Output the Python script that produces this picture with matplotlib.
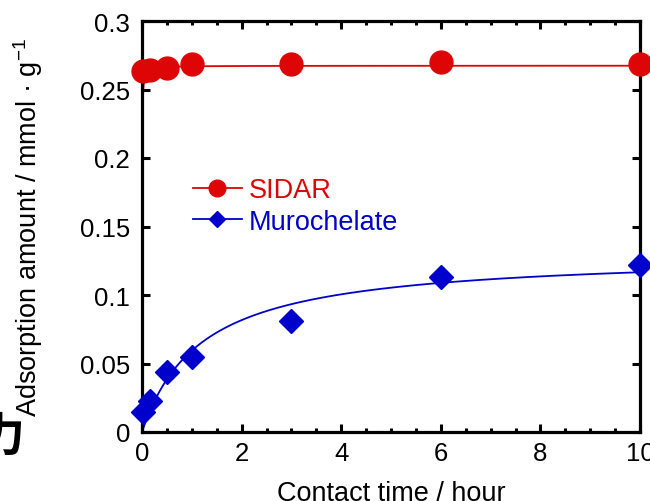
import numpy as np
import matplotlib as mpl
mpl.use('Agg')
import matplotlib.pyplot as plt

plt.rcParams['font.family'] = ['Liberation Sans', 'DejaVu Sans']
plt.rcParams['mathtext.default'] = 'regular'

# contact time (hour)
time_h = [1/60, 10/60, 30/60, 1, 3, 6, 10]
# adsorption amount (mmol/g)
sidar = [0.2637, 0.2640, 0.2657, 0.2686, 0.2686, 0.2703, 0.2686]
muro = [0.0144, 0.0229, 0.0436, 0.0545, 0.0813, 0.1130, 0.1219]

xticks = [0, 2, 4, 6, 8, 10]
yticks = [0, 0.05, 0.1, 0.15, 0.2, 0.25, 0.3]
yticklabels = ['0', '0.05', '0.1', '0.15', '0.2', '0.25', '0.3']

# pseudo second order fit parameters (qe, k)
sidar_fit = (0.2674, 2000.0)
muro_fit = (0.1306, 6.39)

red = '#dd0505'
blue = '#0000cc'

def pso(t, qe, k):
    return qe * qe * k * t / (1 + qe * k * t)

t = np.concatenate([[0], np.geomspace(1e-5, 10, 600)])

fig = plt.figure(figsize=(6.5, 5.02), dpi=100)
ax = fig.add_axes([142/650, 1-433/502, 498/650, 411/502])

ax.plot(t, pso(t, *sidar_fit), color=red, lw=1.3)
ax.plot(t, pso(t, *muro_fit), color=blue, lw=1.3)
ax.plot(time_h, sidar, 'o', color=red, ms=16.5, mec=red, clip_on=False, zorder=5)
ax.plot(time_h, muro, 'D', color=blue, ms=11.8, mec=blue, clip_on=False, zorder=5)

# legend handles
ax.plot([], [], '-o', color=red, ms=12, lw=1.3, label='SIDAR')
ax.plot([], [], '-D', color=blue, ms=8.5, lw=1.3, label='Murochelate')
h, l = ax.get_legend_handles_labels()
leg = ax.legend(h, l, loc='upper left', bbox_to_anchor=(0.102, 0.62),
                frameon=False, fontsize=19.5, handlelength=1.8,
                handletextpad=0.25, labelspacing=0.2, borderpad=0,
                borderaxespad=0)
for txt, c in zip(leg.get_texts(), [red, blue]):
    txt.set_color(c)

ax.set_xlim(0, 10)
ax.set_ylim(0, 0.3)
ax.set_xticks(xticks)
ax.set_xticks(np.arange(0, 10.01, 0.5), minor=True)
ax.set_xticklabels([str(v) for v in xticks])
ax.set_yticks(yticks)
ax.set_yticklabels(yticklabels)
ax.tick_params(which='both', direction='in', top=True, right=True, width=2.2)
ax.tick_params(which='major', length=6)
ax.tick_params(which='minor', length=3)
ax.tick_params(axis='x', labelsize=18.5, pad=6.5)
ax.tick_params(axis='y', labelsize=18.5, pad=8.5)
for s in ax.spines.values():
    s.set_linewidth(2.3)

ax.set_xlabel('Contact time / hour', fontsize=19.5)
ax.set_ylabel('Adsorption amount / mmol \u00b7 g$^{-1}$', fontsize=19.5)
ax.xaxis.set_label_coords(0.5, -0.118)
ax.yaxis.set_label_coords(-0.195, 0.5)

fig.text(25/650, 1-437/502, '\u529b', fontsize=33, ha='right', va='center',
         fontweight='bold', family=['Noto Sans CJK JP', 'DejaVu Sans'])

fig.savefig('out.png', dpi=100)
